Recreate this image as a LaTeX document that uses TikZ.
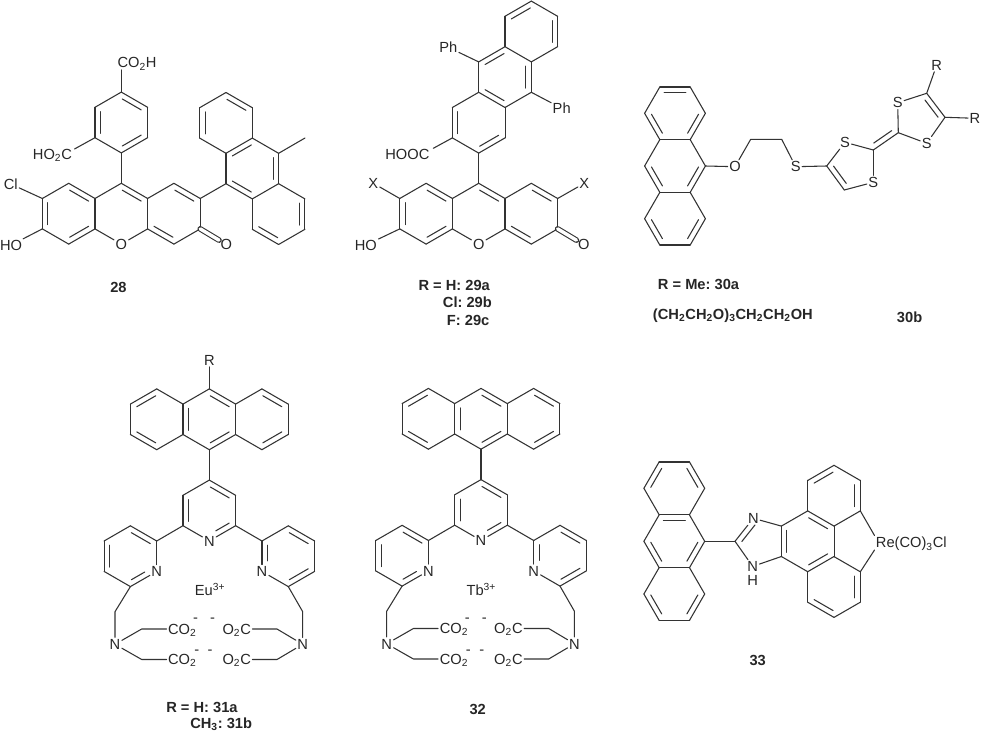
\documentclass[tikz,border=0pt]{standalone}
\usepackage{fontspec}
\setmainfont{Liberation Sans}
\usetikzlibrary{calc}
\frenchspacing
\tikzset{
	bond/.style={line width=0.8pt, draw=black!80, line cap=round, line join=round},
	atom/.style={font=\fontsize{11}{13}\selectfont, text=black!85, inner sep=1pt, text height=7.9pt, text depth=0pt},
	charge/.style={font=\fontsize{11}{13}\selectfont, text=black!85, inner sep=0pt},
	tag/.style={font=\fontsize{11}{13}\selectfont\bfseries, text=black!85, inner sep=0pt, anchor=west}
}
\newcommand{\HexRing}[4]{\foreach \k in {1,...,6}{\coordinate (#1\k) at ({#2+30.4*cos(#4-60*(\k-1))},{#3-30.4*sin(#4-60*(\k-1))});}}
\newcommand{\InnerLine}[4][.14]{\draw[bond] ($(#2)!#1!(#3)!4.1pt!#4:(#3)$) -- ($(#2)!.86!(#3)!4.1pt!#4:(#3)$);}
\newcommand{\RingBonds}[3]{%
	\foreach \k in {#2}{\pgfmathtruncatemacro{\nxt}{mod(\k,6)+1}\draw[bond] (#1\k) -- (#1\nxt);}
	\foreach \k in {#3}{\pgfmathtruncatemacro{\nxt}{mod(\k,6)+1}\InnerLine{#1\k}{#1\nxt}{-90}}
}
\newcommand{\Xanthene}[2]{%
	\HexRing{L}{#1-52.6}{#2}{90}
	\HexRing{M}{#1}{#2}{90}
	\HexRing{R}{#1+52.6}{#2}{90}
	\node[atom] (O1) at (M4) {O};
	\node[atom] (O2) at (#1+105,#2+30.8) {O};
	\RingBonds{L}{1,...,6}{1,3,5}
	\RingBonds{M}{1,6}{1}
	\RingBonds{R}{6,1,2,3,4,5}{1,4}
	\draw[bond] (M3) -- (O1);
	\draw[bond] (O1) -- (M5);
	\draw[bond, double, double distance=2.6pt] (R3) -- (O2);
}
\newcommand{\Ligand}[1]{%
	\HexRing{A}{156.7}{419.3}{90}
	\HexRing{B}{209.3}{419.3}{90}
	\HexRing{C}{261.9}{419.3}{90}
	\RingBonds{A}{1,3,4,5,6}{4,6}
	\RingBonds{B}{1,3,4,5,6}{1,3,5}
	\RingBonds{C}{1,...,6}{1,3}
	\HexRing{D}{209.3}{510.5}{90}
	\HexRing{E}{130.4}{556.2}{90}
	\HexRing{F}{288.3}{556.2}{90}
	\node[atom] (Nd) at (D4) {N};
	\node[atom] (Ne) at (E3) {N};
	\node[atom] (Nf) at (F5) {N};
	\RingBonds{D}{1,2,5,6}{1,5}
	\RingBonds{E}{1,4,5,6}{1,5}
	\RingBonds{F}{1,2,3,6}{1,3}
	\draw[bond] (D3) -- (Nd);
	\draw[bond] (Nd) -- (D5);
	\InnerLine[.35]{Nd}{D3}{90}
	\draw[bond] (E2) -- (Ne);
	\draw[bond] (Ne) -- (E4);
	\InnerLine[.35]{Ne}{E4}{-90}
	\draw[bond] (F4) -- (Nf);
	\draw[bond] (Nf) -- (F6);
	\InnerLine[.35]{Nf}{F6}{-90}
	\draw[bond] (B4) -- (D1);
	\draw[bond] (D5) -- (E2);
	\draw[bond] (D3) -- (F6);
	\node[atom, anchor=west] (metal) at (193.3,590.7) {#1};
	\node[atom] (Na) at (115,644.3) {N};
	\node[atom] (Nb) at (302.7,644.3) {N};
	\coordinate (ca) at (115,611.7);
	\coordinate (cb) at (302.7,611.7);
	\coordinate (cc) at (141.7,629);
	\coordinate (cd) at (141.7,659.5);
	\coordinate (ce) at (277,629);
	\coordinate (cf) at (277,659.5);
	\node[atom, anchor=west] (coa) at (166.5,629) {CO\textsubscript{2}};
	\node[atom, anchor=west] (cob) at (166.5,659.5) {CO\textsubscript{2}};
	\node[atom, anchor=east] (oca) at (252.5,629) {O\textsubscript{2}C};
	\node[atom, anchor=east] (ocb) at (252.5,659.5) {O\textsubscript{2}C};
	\node[charge] (ma) at (195.5,620.7) {-};
	\node[charge] (mb) at (212.5,620.7) {-};
	\node[charge] (mc) at (196.7,652.7) {-};
	\node[charge] (md) at (210,652.7) {-};
	\draw[bond] (E4) -- (ca) -- (Na);
	\draw[bond] (F4) -- (cb) -- (Nb);
	\draw[bond] (Na) -- (cc) -- (coa);
	\draw[bond] (Na) -- (cd) -- (cob);
	\draw[bond] (Nb) -- (ce) -- (oca);
	\draw[bond] (Nb) -- (cf) -- (ocb);
}

\begin{document}
\begin{tikzpicture}[x=0.75pt, y=-0.75pt]
\useasboundingbox (0,0) rectangle (981,734);

\begin{scope}[name prefix=a-]
	\Xanthene{121.3}{213.7}
	\HexRing{P}{121.3}{122.5}{90}
	\RingBonds{P}{1,...,6}{1,3,5}
	\draw[bond] (M1) -- (P4);
	\node[atom, anchor=west] (cooh) at (116,62.7) {CO\textsubscript{2}H};
	\coordinate (coohend) at (121.3,70);
	\draw[bond] (P1) -- (coohend);
	\node[atom, anchor=east] (hoc) at (73.5,154) {HO\textsubscript{2}C};
	\coordinate (hocend) at (74.5,149);
	\draw[bond] (P5) -- (hocend);
	\node[atom] (Cl) at (10.7,184) {Cl};
	\node[atom, anchor=east, inner sep=0pt] (HO) at (22.4,245) {HO};
	\draw[bond] (L6) -- (Cl);
	\draw[bond, shorten >=1pt] (L5) -- (HO);
	\HexRing{U}{226}{122.9}{90}
	\HexRing{C}{252.3}{168.5}{90}
	\HexRing{W}{278.6}{214.1}{90}
	\RingBonds{U}{1,2,4,5,6}{1,5}
	\RingBonds{C}{1,...,6}{2,4,6}
	\RingBonds{W}{1,2,3,4,5}{2,4}
	\draw[bond] (R2) -- (C5);
	\coordinate (methyl) at (305,138);
	\draw[bond] (C2) -- (methyl);
	\node[tag] (t28) at (110,287) {28};
\end{scope}

\begin{scope}[name prefix=b-]
	\Xanthene{478.7}{213.7}
	\HexRing{S}{478.7}{122.7}{90}
	\HexRing{T}{505}{77.1}{90}
	\HexRing{V}{531.3}{31.5}{90}
	\RingBonds{S}{2,3,4,5,6}{3,5}
	\RingBonds{T}{1,...,6}{2,4,6}
	\RingBonds{V}{1,2,3,5,6}{2,6}
	\draw[bond] (M1) -- (S4);
	\node[atom] (Xa) at (373.3,183.3) {X};
	\node[atom] (Xb) at (584.3,183.3) {X};
	\node[atom, anchor=east] (HO) at (378.5,245) {HO};
	\draw[bond] (L6) -- (Xa);
	\draw[bond] (R2) -- (Xb);
	\draw[bond] (L5) -- (HO);
	\node[atom] (Pha) at (448.3,47.3) {Ph};
	\node[atom] (Phb) at (561.7,108.3) {Ph};
	\draw[bond] (T6) -- (Pha);
	\draw[bond] (T3) -- (Phb);
	\node[atom, anchor=east] (hooc) at (431,154) {HOOC};
	\coordinate (hoocend) at (433.3,148.3);
	\draw[bond] (S5) -- (hoocend);
	\node[tag] (t29a) at (418.3,285) {R = H: 29a};
	\node[tag] (t29b) at (442.7,302.3) {Cl: 29b};
	\node[tag] (t29c) at (446.7,320) {F: 29c};
\end{scope}

\begin{scope}[name prefix=c-]
	\HexRing{T}{675}{113.3}{120}
	\HexRing{M}{675}{166}{120}
	\HexRing{B}{675}{218.7}{120}
	\RingBonds{T}{1,...,6}{1,3,5}
	\RingBonds{M}{2,3,4,5,6}{3,5}
	\RingBonds{B}{2,3,4,5,6}{3,5}
	\node[atom] (Oe) at (735,166.7) {O};
	\coordinate (ca) at (750.7,139.3);
	\coordinate (cb) at (781.7,139.3);
	\node[atom] (Se) at (795.7,166.7) {S};
	\draw[bond] (M3) -- (Oe);
	\draw[bond] (Oe) -- (ca) -- (cb) -- (Se);
	\coordinate (da) at (826.7,166);
	\node[atom] (Sa) at (845,142.3) {S};
	\coordinate (db) at (873.3,150);
	\node[atom] (Sb) at (873.3,182.3) {S};
	\coordinate (dc) at (844.3,190);
	\draw[bond] (Se) -- (da);
	\draw[bond] (da) -- (Sa);
	\draw[bond] (Sa) -- (db);
	\draw[bond] (db) -- (Sb);
	\draw[bond] (Sb) -- (dc);
	\draw[bond] (dc) -- (da);
	\InnerLine{da}{dc}{90}
	\coordinate (ea) at (898.3,132.7);
	\draw[bond] (db) -- (ea);
	\InnerLine{db}{ea}{90}
	\node[atom] (Sc) at (897.7,102.7) {S};
	\coordinate (eb) at (926.7,93.3);
	\coordinate (ec) at (945,117.3);
	\node[atom] (Sd) at (926.7,143.3) {S};
	\draw[bond] (ea) -- (Sc);
	\draw[bond] (Sc) -- (eb);
	\draw[bond] (eb) -- (ec);
	\InnerLine{eb}{ec}{-90}
	\draw[bond] (ec) -- (Sd);
	\draw[bond] (Sd) -- (ea);
	\node[atom] (Ra) at (936.7,65) {R};
	\node[atom] (Rb) at (975,118.3) {R};
	\draw[bond] (eb) -- (Ra);
	\draw[bond] (ec) -- (Rb);
	\node[tag] (t30a) at (657.7,284) {R = Me: 30a};
	\node[tag] (t30c) at (652.7,316) {(CH\textsubscript{2}CH\textsubscript{2}O)\textsubscript{3}CH\textsubscript{2}CH\textsubscript{2}OH};
	\node[tag] (t30b) at (896.7,317.3) {30b};
\end{scope}

\begin{scope}[name prefix=d-]
	\Ligand{Eu\textsuperscript{3+}}
	\node[atom] (Rt) at (209.3,360) {R};
	\draw[bond] (B1) -- (Rt);
	\node[tag] (t31a) at (166,707.7) {R = H: 31a};
	\node[tag] (t31b) at (190,724.3) {CH\textsubscript{3}: 31b};
\end{scope}

\begin{scope}[shift={(271.7,-0.5)}, name prefix=e-]
	\Ligand{Tb\textsuperscript{3+}}
	\node[tag] (t32) at (197.6,709.5) {32};
\end{scope}

\begin{scope}[name prefix=f-]
	\HexRing{T}{674.3}{488.3}{120}
	\HexRing{M}{674.3}{541.3}{120}
	\HexRing{B}{674.3}{594}{120}
	\RingBonds{T}{1,...,6}{2,6}
	\RingBonds{M}{2,3,4,5,6}{1,3,5}
	\RingBonds{B}{2,3,4,5,6}{3,5}
	\coordinate (cb) at (735,541.3);
	\node[atom] (Na) at (753.3,518.3) {N};
	\node[atom, inner sep=0pt] (Nb) at (752.7,566.4) {N};
	\node[atom, inner sep=0pt] (Hb) at (752.7,579.8) {H};
	\HexRing{Q}{807.7}{541.3}{90}
	\HexRing{U}{834}{495.7}{90}
	\HexRing{D}{834}{587}{90}
	\RingBonds{Q}{1,...,6}{1,3,5}
	\RingBonds{U}{1,2,3,5,6}{2,6}
	\RingBonds{D}{1,2,3,4,5}{2,4}
	\draw[bond] (M3) -- (cb);
	\draw[bond] (cb) -- (Na);
	\InnerLine{cb}{Na}{-90}
	\draw[bond, shorten >=1pt] (cb) -- (Nb);
	\draw[bond, shorten <=1pt] (Nb) -- (Q5);
	\draw[bond] (Na) -- (Q6);
	\node[atom, anchor=west] (Re) at (874.3,542.7) {Re(CO)\textsubscript{3}Cl};
	\coordinate (rea) at (874.5,535.5);
	\coordinate (reb) at (874.5,550);
	\draw[bond] (U3) -- (rea);
	\draw[bond] (D2) -- (reb);
	\node[tag] (t33) at (749.3,660) {33};
\end{scope}

\end{tikzpicture}
\end{document}
